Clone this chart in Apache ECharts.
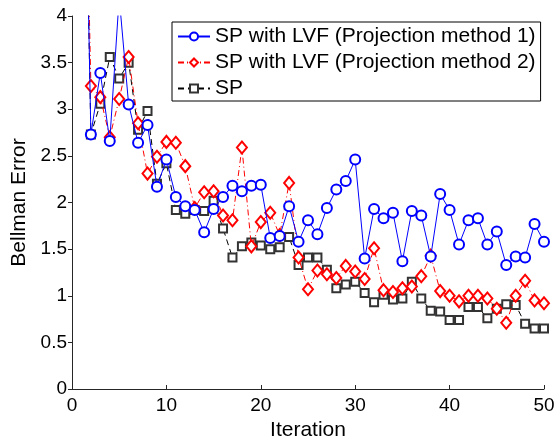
<!DOCTYPE html>
<html>
<head>
<meta charset="utf-8">
<script src="https://cdn.jsdelivr.net/npm/echarts@6/dist/echarts.min.js"></script>
<style>
html,body{margin:0;padding:0;background:#fff;}
#chart{width:555px;height:439px;}
</style>
</head>
<body>
<div id="chart"></div>
<script>
const iterations = [1,2,3,4,5,6,7,8,9,10,11,12,13,14,15,16,17,18,19,20,21,22,23,24,25,26,27,28,29,30,31,32,33,34,35,36,37,38,39,40,41,42,43,44,45,46,47,48,49,50];
const xTicks = [0,10,20,30,40,50];
const yTicks = [0,0.5,1,1.5,2,2.5,3,3.5,4];
const seriesNames = ['SP with LVF (Projection method 1)','SP with LVF (Projection method 2)','SP'];
const method1 = [8.0,2.73,3.39,2.66,4.2,3.05,2.64,2.83,2.17,2.46,2.06,1.96,1.92,1.68,1.93,2.06,2.18,2.12,2.18,2.19,1.62,1.64,1.96,1.58,1.81,1.66,1.94,2.14,2.23,2.46,1.40,1.93,1.83,1.89,1.37,1.91,1.86,1.42,2.09,1.92,1.55,1.81,1.83,1.55,1.69,1.33,1.42,1.41,1.77,1.58];
const method2 = [8.0,3.25,3.13,2.70,3.11,3.56,2.85,2.31,2.49,2.65,2.64,2.39,1.94,2.11,2.12,1.86,1.81,2.59,1.53,1.79,1.89,1.65,2.21,1.41,1.07,1.27,1.23,1.19,1.32,1.26,1.18,1.51,1.06,1.04,1.08,1.10,1.21,1.43,1.05,1.00,0.94,1.00,1.00,0.97,0.86,0.71,1.00,1.16,0.95,0.92];
const spOnly = [8.0,2.73,3.06,3.56,3.33,3.50,2.78,2.98,2.20,2.42,1.92,1.88,1.92,1.91,2.02,1.72,1.41,1.53,1.57,1.54,1.50,1.52,1.63,1.33,1.41,1.41,1.28,1.08,1.12,1.15,1.03,0.93,1.01,0.96,0.97,1.15,0.97,0.84,0.83,0.74,0.74,0.88,0.88,0.76,0.86,0.91,0.90,0.70,0.65,0.65];

function pairs(vals){ return iterations.map((x,i)=>[x, vals[i]]); }

const chart = echarts.init(document.getElementById('chart'), null, {renderer:'canvas'});
const fontFam = 'Liberation Sans, Arial, Helvetica, sans-serif';
const axisCol = '#262626';
chart.setOption({
  animation:false,
  backgroundColor:'#ffffff',
  grid:{left:72, right:11, top:16, bottom:50, containLabel:false, outerBoundsMode:'none'},
  legend:{
    orient:'vertical', left:172, top:22,
    padding:[4,5,2,5],
    itemGap:5, itemWidth:32, itemHeight:10,
    borderColor:'#000', borderWidth:1, backgroundColor:'#fff',
    textStyle:{fontFamily:fontFam, fontSize:21, color:'#000', lineHeight:21},
    data:seriesNames
  },
  xAxis:{
    type:'value', min:xTicks[0], max:xTicks[xTicks.length-1], interval:10,
    name:'Iteration', nameLocation:'middle', nameGap:24,
    nameTextStyle:{fontFamily:fontFam, fontSize:21, color:'#000'},
    axisLine:{show:true, lineStyle:{color:axisCol, width:1}},
    axisTick:{show:true, inside:true, length:4, lineStyle:{color:axisCol}},
    axisLabel:{fontFamily:fontFam, fontSize:19, color:'#000', margin:7},
    splitLine:{show:false}
  },
  yAxis:{
    type:'value', min:yTicks[0], max:yTicks[yTicks.length-1], interval:0.5,
    name:'Bellman Error', nameLocation:'middle', nameGap:38,
    nameTextStyle:{fontFamily:fontFam, fontSize:21, color:'#000'},
    axisLine:{show:true, lineStyle:{color:axisCol, width:1}},
    axisTick:{show:true, inside:false, length:4, lineStyle:{color:axisCol}},
    axisLabel:{fontFamily:fontFam, fontSize:19, color:'#000', margin:5},
    splitLine:{show:false}
  },
  series:[
    {name:seriesNames[0], type:'line', data:pairs(method1), clip:true,
     symbol:'emptyCircle', symbolSize:10, showAllSymbol:true,
     lineStyle:{color:'#0000ff', width:1, type:'solid'},
     itemStyle:{color:'#0000ff', borderWidth:1}, z:3},
    {name:seriesNames[1], type:'line', data:pairs(method2), clip:true,
     symbol:'emptyDiamond', symbolSize:[10,12], showAllSymbol:true,
     lineStyle:{color:'#ff0000', width:1, type:[6,3,1,3]},
     itemStyle:{color:'#ff0000', borderWidth:1}, z:2},
    {name:seriesNames[2], type:'line', data:pairs(spOnly), clip:true,
     symbol:'emptyRect', symbolSize:8, showAllSymbol:true,
     lineStyle:{color:'#000000', width:1, type:[6,4]},
     itemStyle:{color:'#333333', borderWidth:1}, z:1}
  ]
});
</script>
</body>
</html>
